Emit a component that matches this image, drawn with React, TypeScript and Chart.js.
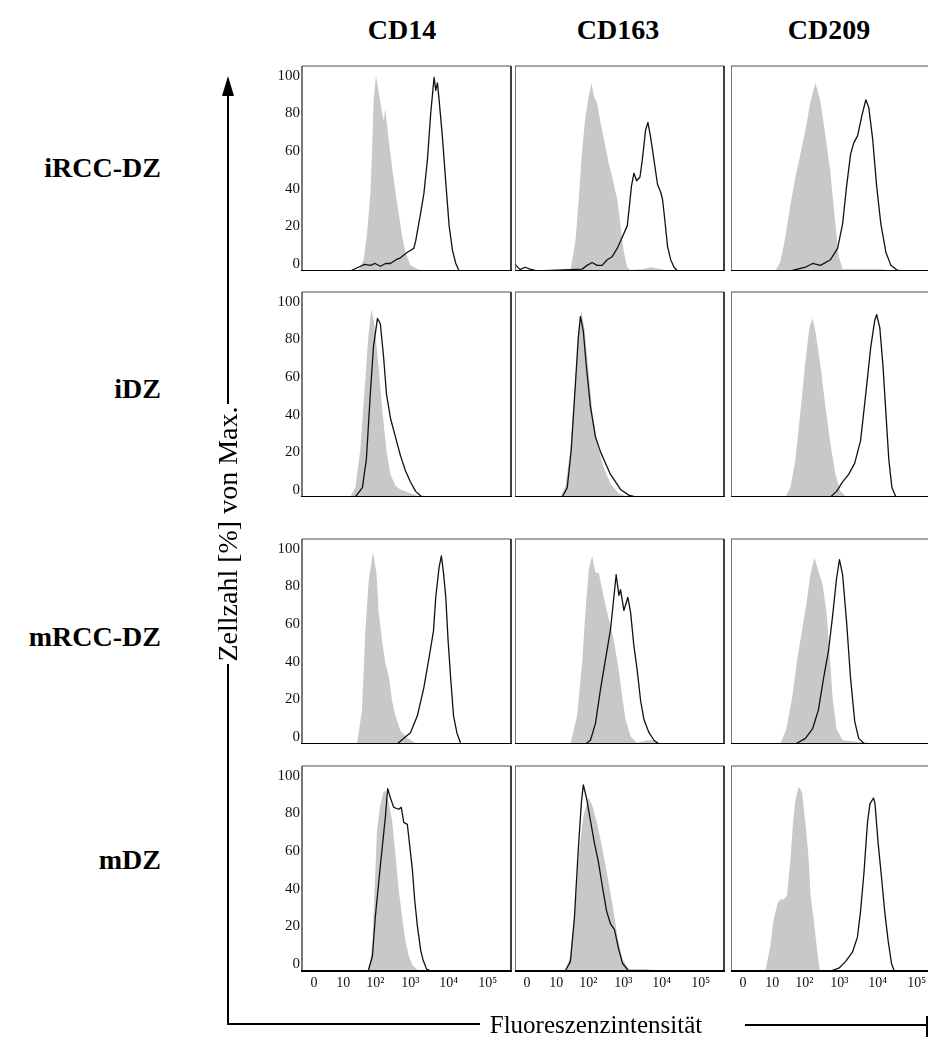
import React, { useEffect, useRef } from "react";
import { Chart, registerables } from "chart.js";

Chart.register(...registerables);

// ---------------- data ----------------
const rowLabels = ["iRCC-DZ", "iDZ", "mRCC-DZ", "mDZ"];
const markers = ["CD14", "CD163", "CD209"];
const xTickChannels = [58, 197, 351, 519, 702, 889];
const xTickLabels = ["0", "10", "10²", "10³", "10⁴", "10⁵"];
const yTickValues = [0, 20, 40, 60, 80, 100];
const yAxisTitle = "Zellzahl [%] von Max.";
const xAxisTitle = "Fluoreszenzintensität";

type Pt = [number, number];

// isotype control (grey filled) and specific staining (black line); [channel, % of max]
const iso_iRCC_CD14: Pt[] = [[269,0],[295,6],[311,20],[327,41],[335,63],[343,91],[354,104],[367,95],[383,84],[390,80],[399,86],[407,77],[431,55],[455,36],[480,18],[495,10],[519,3],[552,1],[577,0]];
const stain_iRCC_CD14: Pt[] = [[0,0],[231,0],[269,2],[300,3.5],[327,3],[350,4],[375,2.5],[400,4],[423,4],[450,6],[471,7],[504,10],[535,12],[544,16],[568,31],[583,41],[600,59],[616,84],[632,103],[640,96],[648,100],[656,91],[672,71],[688,47],[704,24],[720,11],[736,4],[752,0],[1000,0]];

const iso_iRCC_CD163: Pt[] = [[265,0],[289,16],[305,38],[321,64],[337,82],[353,93],[366,100],[377,93],[393,89],[409,79],[433,66],[449,57],[465,50],[489,38],[505,24],[521,10],[537,2],[553,0.5],[616,1],[649,2],[697,1],[745,0]];
const stain_iRCC_CD163: Pt[] = [[0,4],[5,3],[24,0.7],[48,2],[72,1],[104,0],[201,0.5],[321,1],[345,3],[369,4.5],[393,3],[417,3],[441,6],[465,7.6],[489,12],[513,18],[537,24],[545,32],[557,45],[569,52],[582,48],[598,50],[609,59],[625,75],[636,79],[649,71],[665,59],[682,46],[697,42],[706,38],[717,27],[730,13],[745,6],[761,2],[778,0],[1000,0]];

const iso_iRCC_CD209: Pt[] = [[212,0],[236,5],[260,18],[284,35],[308,50],[332,62],[356,75],[380,90],[404,100],[428,90],[452,72],[476,52],[495,30],[515,8],[534,1],[620,1],[717,1],[765,0]];
const stain_iRCC_CD209: Pt[] = [[0,0],[284,0],[356,2],[390,4],[428,3],[476,6],[510,12],[534,25],[553,45],[572,62],[587,68],[606,72],[625,82],[645,91],[659,87],[678,70],[697,45],[717,25],[741,10],[765,3],[794,0.5],[820,0],[1000,0]];

const iso_iDZ_CD14: Pt[] = [[231,0],[255,5],[279,25],[298,55],[317,85],[332,100],[346,92],[366,70],[385,45],[404,25],[423,12],[447,6],[471,4],[519,2],[568,0]];
const stain_iDZ_CD14: Pt[] = [[0,0],[255,0],[289,5],[308,20],[327,55],[342,80],[361,95],[375,92],[390,75],[404,55],[423,42],[447,32],[471,22],[495,14],[519,8],[544,3],[568,0.5],[590,0],[1000,0]];

const iso_iDZ_CD163: Pt[] = [[216,0],[240,5],[265,25],[284,55],[303,85],[317,99],[332,90],[351,68],[370,45],[394,28],[423,16],[457,7],[495,2],[544,0]];
const stain_iDZ_CD163: Pt[] = [[0,0],[226,0],[250,5],[269,25],[289,60],[303,85],[313,96],[327,88],[341,70],[361,48],[385,32],[409,24],[433,18],[457,12],[481,8],[505,4],[544,1],[577,0],[1000,0]];

const iso_iDZ_CD209: Pt[] = [[260,0],[284,5],[308,20],[332,45],[356,72],[375,90],[390,95],[404,88],[428,70],[452,48],[476,28],[500,12],[524,3],[553,0]];
const stain_iDZ_CD209: Pt[] = [[0,0],[476,0],[505,3],[534,8],[563,12],[592,18],[620,30],[645,55],[669,80],[688,94],[697,97],[712,90],[727,70],[741,45],[755,20],[770,5],[789,0],[1000,0]];

const iso_mRCC_CD14: Pt[] = [[263,0],[287,18],[303,60],[319,87],[340,102],[356,91],[367,70],[383,55],[399,43],[415,36],[431,23],[447,15],[471,7],[504,3],[552,0]];
const stain_mRCC_CD14: Pt[] = [[0,0],[455,0],[487,3],[519,6],[552,15],[583,30],[608,46],[629,60],[640,78],[656,94],[667,100],[677,91],[688,78],[699,55],[712,34],[725,15],[741,6],[760,0],[1000,0]];

const iso_mRCC_CD163: Pt[] = [[265,0],[297,15],[321,43],[337,70],[353,93],[369,100],[385,91],[401,91],[417,82],[441,70],[473,55],[497,39],[513,25],[529,13],[553,4],[585,0.5],[630,2],[664,2],[707,0]];
const stain_mRCC_CD163: Pt[] = [[0,0],[337,0],[361,2],[385,11],[409,29],[433,45],[457,61],[473,78],[484,90],[497,79],[505,82],[521,71],[540,78],[553,70],[569,52],[585,39],[601,23],[617,13],[641,6],[665,2],[689,0],[1000,0]];

const iso_mRCC_CD209: Pt[] = [[236,0],[265,8],[293,25],[317,45],[342,62],[361,75],[380,90],[399,99],[418,92],[438,85],[457,70],[471,50],[486,25],[505,8],[534,2],[620,1],[717,0]];
const stain_mRCC_CD209: Pt[] = [[0,0],[308,0],[356,3],[390,8],[418,18],[443,35],[467,50],[486,68],[505,88],[519,98],[534,90],[553,65],[572,35],[592,12],[611,3],[640,0],[1000,0]];

const iso_mDZ_CD14: Pt[] = [[313,0],[327,5],[337,16],[346,40],[359,75],[374,88],[390,95],[399,96],[414,90],[431,80],[447,62],[463,43],[480,28],[495,16],[511,8],[529,3],[558,0]];
const stain_mDZ_CD14: Pt[] = [[0,0],[317,0],[337,8],[351,29],[375,56],[399,82],[410,97],[423,92],[439,87],[463,86],[475,87],[487,79],[504,78],[516,66],[528,54],[539,38],[552,24],[568,11],[579,6],[596,1],[616,0],[1000,0]];

const iso_mDZ_CD163: Pt[] = [[240,0],[265,8],[289,35],[308,65],[327,82],[351,92],[370,88],[394,78],[418,65],[443,50],[467,35],[491,18],[515,6],[544,1],[625,1],[697,0]];
const stain_mDZ_CD163: Pt[] = [[0,0],[240,0],[265,5],[284,28],[303,65],[318,90],[327,99],[342,92],[361,80],[380,68],[399,58],[418,45],[438,32],[457,25],[476,22],[495,12],[515,4],[544,0],[1000,0]];

const iso_mDZ_CD209: Pt[] = [[164,0],[188,13],[203,27],[223,36],[236,38],[252,38],[268,40],[284,59],[297,79],[308,91],[324,98],[340,95],[356,79],[372,59],[380,41],[396,27],[412,11],[425,0]];
const stain_mDZ_CD209: Pt[] = [[0,0],[476,0],[516,1.5],[548,5],[581,10],[605,18],[620,32],[636,52],[653,79],[665,89],[682,92],[689,89],[704,68],[720,50],[736,31],[752,16],[768,4],[781,0],[1000,0]];

const isoSeries: Pt[][][] = [
  [iso_iRCC_CD14, iso_iRCC_CD163, iso_iRCC_CD209],
  [iso_iDZ_CD14, iso_iDZ_CD163, iso_iDZ_CD209],
  [iso_mRCC_CD14, iso_mRCC_CD163, iso_mRCC_CD209],
  [iso_mDZ_CD14, iso_mDZ_CD163, iso_mDZ_CD209],
];
const stainSeries: Pt[][][] = [
  [stain_iRCC_CD14, stain_iRCC_CD163, stain_iRCC_CD209],
  [stain_iDZ_CD14, stain_iDZ_CD163, stain_iDZ_CD209],
  [stain_mRCC_CD14, stain_mRCC_CD163, stain_mRCC_CD209],
  [stain_mDZ_CD14, stain_mDZ_CD163, stain_mDZ_CD209],
];

// ---------------- layout ----------------
const FONT = '"Liberation Serif", "Times New Roman", serif';
const GRAY = "#c8c8c8";
const colLeft = [302, 515, 731];
const rowTop = [66, 292, 539, 766];
const PW = 209;
const PH = 205;
const Y_AXIS_W = 40;
const X_AXIS_H = 26;
const PAD = 3;

const boxPlugin = {
  id: "panelBox",
  afterDraw(chart: any) {
    const { ctx, chartArea: a } = chart;
    ctx.save();
    const seg = (x1: number, y1: number, x2: number, y2: number, c: string, w: number) => {
      ctx.beginPath();
      ctx.strokeStyle = c;
      ctx.lineWidth = w;
      ctx.moveTo(x1, y1);
      ctx.lineTo(x2, y2);
      ctx.stroke();
    };
    seg(a.left, a.top, a.right, a.top, "#8a8a8a", 1.6);
    seg(a.left, a.top, a.left, a.bottom, "#555", 1.6);
    seg(a.right, a.top, a.right, a.bottom, "#111", 1.6);
    seg(a.left - 1, a.bottom, a.right + 1, a.bottom, "#000", 2);
    ctx.restore();
  },
};

const zeroPad = (s: any) => {
  s.paddingTop = 0;
  s.paddingBottom = 0;
  s.paddingLeft = 0;
  s.paddingRight = 0;
};

function Panel({ r, c }: { r: number; c: number }) {
  const ref = useRef<HTMLCanvasElement>(null);
  const showY = c === 0;
  const showX = r === 3;
  const yw = showY ? Y_AXIS_W : 0;
  const xh = showX ? X_AXIS_H : 0;
  const cw = yw + PW + PAD;
  const chh = PAD + PH + xh;
  useEffect(() => {
    const toXY = (a: Pt[]) => a.map(([x, y]) => ({ x, y }));
    const chart = new Chart(ref.current as HTMLCanvasElement, {
      type: "line",
      data: {
        datasets: [
          {
            data: toXY(stainSeries[r][c]),
            borderColor: "#111",
            borderWidth: 1.3,
            pointRadius: 0,
            fill: false,
            tension: 0,
            borderJoinStyle: "round",
          },
          {
            data: toXY(isoSeries[r][c]),
            borderColor: GRAY,
            borderWidth: 0,
            backgroundColor: GRAY,
            pointRadius: 0,
            fill: "origin",
            tension: 0,
          },
        ],
      } as any,
      options: {
        animation: false,
        responsive: false,
        events: [],
        layout: { padding: { top: PAD, right: PAD, left: 0, bottom: 0 } },
        plugins: { legend: { display: false }, tooltip: { enabled: false } },
        scales: {
          x: {
            type: "linear",
            min: 0,
            max: 1000,
            grid: { display: false, drawTicks: false },
            border: { display: false },
            afterBuildTicks: (s: any) => {
              s.ticks = xTickChannels.map((v) => ({ value: v }));
            },
            afterFit: (s: any) => {
              s.height = xh;
              zeroPad(s);
            },
            ticks: {
              display: showX,
              autoSkip: false,
              maxRotation: 0,
              padding: 4,
              color: "#111",
              font: { family: FONT, size: 14 },
              callback: (_v: any, i: number) => xTickLabels[i],
            },
          },
          y: {
            type: "linear",
            min: 0,
            max: 109,
            grid: { display: false, drawTicks: false },
            border: { display: false },
            afterBuildTicks: (s: any) => {
              s.ticks = yTickValues.map((v) => ({ value: v }));
            },
            afterFit: (s: any) => {
              s.width = yw;
              zeroPad(s);
            },
            ticks: {
              display: showY,
              padding: 2,
              labelOffset: -7,
              color: "#111",
              font: { family: FONT, size: 15 },
              callback: (v: any) => String(v),
            },
          },
        },
      } as any,
      plugins: [boxPlugin],
    });
    return () => chart.destroy();
  }, []);
  return (
    <canvas
      ref={ref}
      width={cw}
      height={chh}
      style={{ position: "absolute", left: colLeft[c] - yw, top: rowTop[r] - PAD, width: cw, height: chh }}
    />
  );
}

export default function App() {
  const colCenters = [402, 618, 829];
  const rowCenters = [168, 389, 637, 860];
  return (
    <div
      style={{
        position: "absolute",
        left: 0,
        top: 0,
        width: 928,
        height: 1037,
        overflow: "hidden",
        background: "#fff",
        fontFamily: FONT,
        color: "#000",
      }}
    >
      {markers.map((m, i) => (
        <div
          key={m}
          style={{
            position: "absolute",
            left: colCenters[i] - 100,
            width: 200,
            top: 14,
            lineHeight: "32px",
            fontSize: 28,
            fontWeight: "bold",
            textAlign: "center",
          }}
        >
          {m}
        </div>
      ))}
      {rowLabels.map((l, i) => (
        <div
          key={l}
          style={{
            position: "absolute",
            left: 0,
            width: 161,
            top: rowCenters[i] - 16,
            lineHeight: "32px",
            fontSize: 28,
            fontWeight: "bold",
            textAlign: "right",
          }}
        >
          {l}
        </div>
      ))}
      {rowLabels.map((_, r) => markers.map((__, c) => <Panel key={r + "-" + c} r={r} c={c} />))}
      <svg
        width={928}
        height={1037}
        style={{ position: "absolute", left: 0, top: 0, pointerEvents: "none" }}
      >
        <line x1={228} y1={94} x2={228} y2={404} stroke="#000" strokeWidth={2} />
        <polygon points="228,76 222,96 234,96" fill="#000" />
        <line x1={228} y1={664} x2={228} y2={1024} stroke="#000" strokeWidth={2} />
        <line x1={227} y1={1024} x2={480} y2={1024} stroke="#000" strokeWidth={2} />
        <line x1={745} y1={1025} x2={928} y2={1025} stroke="#000" strokeWidth={2} />
        <line x1={927} y1={1016} x2={927} y2={1037} stroke="#000" strokeWidth={2} />
      </svg>
      <div
        style={{
          position: "absolute",
          left: 228,
          top: 534,
          transform: "translate(-50%, -50%) rotate(-90deg)",
          whiteSpace: "nowrap",
          fontSize: 28,
          lineHeight: "32px",
        }}
      >
        {yAxisTitle}
      </div>
      <div
        style={{
          position: "absolute",
          left: 596,
          top: 1025,
          transform: "translate(-50%, -50%)",
          whiteSpace: "nowrap",
          fontSize: 25,
          lineHeight: "28px",
        }}
      >
        {xAxisTitle}
      </div>
    </div>
  );
}
